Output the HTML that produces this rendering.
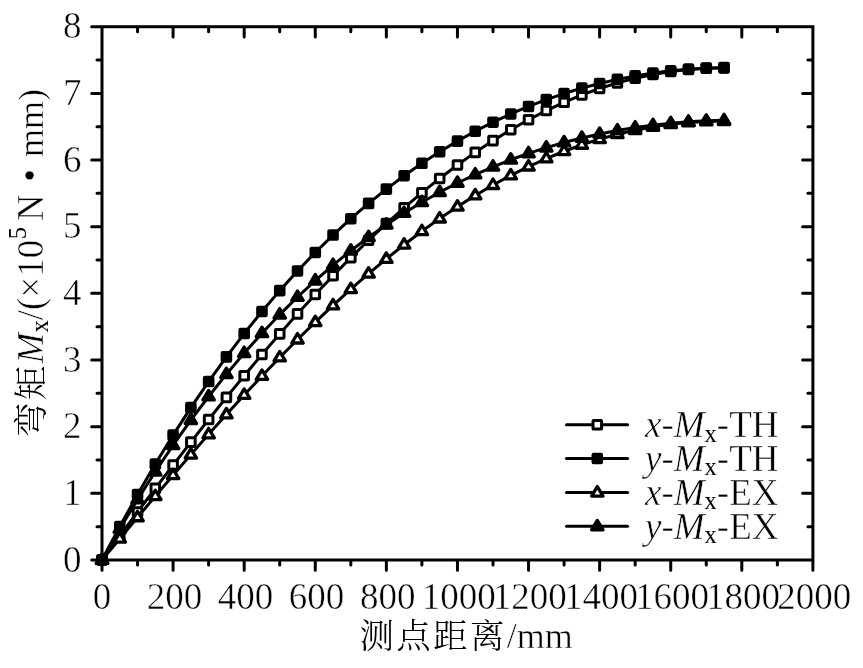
<!DOCTYPE html>
<html><head><meta charset="utf-8"><style>
html,body{margin:0;padding:0;background:#fff;}
body{width:863px;height:668px;overflow:hidden;}
svg{display:block;}
text{font-family:"Liberation Serif","Noto Serif CJK SC",serif;fill:#000;stroke:#fff;stroke-width:0.5;}
.cjk{font-family:"Noto Serif CJK SC",serif;font-weight:300;stroke-width:0;font-size:34.5px;letter-spacing:2.3px;}
.ax{stroke:#000;stroke-width:3.0;fill:none;stroke-linecap:round;stroke-linejoin:miter;}
.tk{stroke:#000;stroke-width:3.0;fill:none;stroke-linecap:round;}
.ln{stroke:#000;stroke-width:3.0;fill:none;stroke-linejoin:round;stroke-linecap:round;}
.mo{stroke:#000;stroke-width:3.0;fill:#fff;stroke-linejoin:round;}
.mf{stroke:#000;stroke-width:3.0;fill:#000;stroke-linejoin:round;}
.t{stroke-width:3.3;}
.s{font-size:24.5px;stroke-width:0;}
</style></head><body>
<svg width="863" height="668" viewBox="0 0 863 668">

<polyline class="ln" points="102,560 119.77,535.81 137.55,511.98 155.32,488.38 173.09,465.07 190.86,442.1 208.63,419.52 226.41,397.36 244.18,375.68 261.95,354.51 279.73,333.89 297.5,313.86 315.27,294.45 333.04,275.69 350.81,257.62 368.59,240.26 386.36,223.64 404.13,207.78 421.9,192.7 439.68,178.43 457.45,164.99 475.22,152.38 493,140.62 510.77,129.73 528.54,119.71 546.31,110.57 564.09,102.32 581.86,94.96 599.63,88.49 617.4,82.91 635.17,78.22 652.95,74.41 670.72,71.48 688.49,69.41 706.26,68.2 724.04,67.84"/>
<rect x="97.7" y="555.7" width="8.6" height="8.6" rx="0.7" class="mo"/>
<rect x="115.47" y="531.51" width="8.6" height="8.6" rx="0.7" class="mo"/>
<rect x="133.25" y="507.68" width="8.6" height="8.6" rx="0.7" class="mo"/>
<rect x="151.02" y="484.08" width="8.6" height="8.6" rx="0.7" class="mo"/>
<rect x="168.79" y="460.77" width="8.6" height="8.6" rx="0.7" class="mo"/>
<rect x="186.56" y="437.8" width="8.6" height="8.6" rx="0.7" class="mo"/>
<rect x="204.33" y="415.22" width="8.6" height="8.6" rx="0.7" class="mo"/>
<rect x="222.11" y="393.06" width="8.6" height="8.6" rx="0.7" class="mo"/>
<rect x="239.88" y="371.38" width="8.6" height="8.6" rx="0.7" class="mo"/>
<rect x="257.65" y="350.21" width="8.6" height="8.6" rx="0.7" class="mo"/>
<rect x="275.43" y="329.59" width="8.6" height="8.6" rx="0.7" class="mo"/>
<rect x="293.2" y="309.56" width="8.6" height="8.6" rx="0.7" class="mo"/>
<rect x="310.97" y="290.15" width="8.6" height="8.6" rx="0.7" class="mo"/>
<rect x="328.74" y="271.39" width="8.6" height="8.6" rx="0.7" class="mo"/>
<rect x="346.51" y="253.32" width="8.6" height="8.6" rx="0.7" class="mo"/>
<rect x="364.29" y="235.96" width="8.6" height="8.6" rx="0.7" class="mo"/>
<rect x="382.06" y="219.34" width="8.6" height="8.6" rx="0.7" class="mo"/>
<rect x="399.83" y="203.48" width="8.6" height="8.6" rx="0.7" class="mo"/>
<rect x="417.6" y="188.4" width="8.6" height="8.6" rx="0.7" class="mo"/>
<rect x="435.38" y="174.13" width="8.6" height="8.6" rx="0.7" class="mo"/>
<rect x="453.15" y="160.69" width="8.6" height="8.6" rx="0.7" class="mo"/>
<rect x="470.92" y="148.08" width="8.6" height="8.6" rx="0.7" class="mo"/>
<rect x="488.69" y="136.32" width="8.6" height="8.6" rx="0.7" class="mo"/>
<rect x="506.47" y="125.43" width="8.6" height="8.6" rx="0.7" class="mo"/>
<rect x="524.24" y="115.41" width="8.6" height="8.6" rx="0.7" class="mo"/>
<rect x="542.01" y="106.27" width="8.6" height="8.6" rx="0.7" class="mo"/>
<rect x="559.79" y="98.02" width="8.6" height="8.6" rx="0.7" class="mo"/>
<rect x="577.56" y="90.66" width="8.6" height="8.6" rx="0.7" class="mo"/>
<rect x="595.33" y="84.19" width="8.6" height="8.6" rx="0.7" class="mo"/>
<rect x="613.1" y="78.61" width="8.6" height="8.6" rx="0.7" class="mo"/>
<rect x="630.88" y="73.92" width="8.6" height="8.6" rx="0.7" class="mo"/>
<rect x="648.65" y="70.11" width="8.6" height="8.6" rx="0.7" class="mo"/>
<rect x="666.42" y="67.18" width="8.6" height="8.6" rx="0.7" class="mo"/>
<rect x="684.19" y="65.11" width="8.6" height="8.6" rx="0.7" class="mo"/>
<rect x="701.97" y="63.9" width="8.6" height="8.6" rx="0.7" class="mo"/>
<rect x="719.74" y="63.54" width="8.6" height="8.6" rx="0.7" class="mo"/>
<polyline class="ln" points="102,560 119.77,526.53 137.55,494.49 155.32,464.03 173.09,435.09 190.86,407.62 208.63,381.57 226.41,356.89 244.18,333.54 261.95,311.46 279.73,290.62 297.5,270.97 315.27,252.46 333.04,235.06 350.81,218.72 368.59,203.42 386.36,189.1 404.13,175.75 421.9,163.32 439.68,151.78 457.45,141.1 475.22,131.25 493,122.21 510.77,113.94 528.54,106.43 546.31,99.64 564.09,93.56 581.86,88.17 599.63,83.44 617.4,79.36 635.17,75.91 652.95,73.07 670.72,70.84 688.49,69.2 706.26,68.14 724.04,67.64"/>
<rect x="97.7" y="555.7" width="8.6" height="8.6" rx="0.7" class="mf"/>
<rect x="115.47" y="522.23" width="8.6" height="8.6" rx="0.7" class="mf"/>
<rect x="133.25" y="490.19" width="8.6" height="8.6" rx="0.7" class="mf"/>
<rect x="151.02" y="459.73" width="8.6" height="8.6" rx="0.7" class="mf"/>
<rect x="168.79" y="430.79" width="8.6" height="8.6" rx="0.7" class="mf"/>
<rect x="186.56" y="403.32" width="8.6" height="8.6" rx="0.7" class="mf"/>
<rect x="204.33" y="377.27" width="8.6" height="8.6" rx="0.7" class="mf"/>
<rect x="222.11" y="352.59" width="8.6" height="8.6" rx="0.7" class="mf"/>
<rect x="239.88" y="329.24" width="8.6" height="8.6" rx="0.7" class="mf"/>
<rect x="257.65" y="307.16" width="8.6" height="8.6" rx="0.7" class="mf"/>
<rect x="275.43" y="286.32" width="8.6" height="8.6" rx="0.7" class="mf"/>
<rect x="293.2" y="266.67" width="8.6" height="8.6" rx="0.7" class="mf"/>
<rect x="310.97" y="248.16" width="8.6" height="8.6" rx="0.7" class="mf"/>
<rect x="328.74" y="230.76" width="8.6" height="8.6" rx="0.7" class="mf"/>
<rect x="346.51" y="214.42" width="8.6" height="8.6" rx="0.7" class="mf"/>
<rect x="364.29" y="199.12" width="8.6" height="8.6" rx="0.7" class="mf"/>
<rect x="382.06" y="184.8" width="8.6" height="8.6" rx="0.7" class="mf"/>
<rect x="399.83" y="171.45" width="8.6" height="8.6" rx="0.7" class="mf"/>
<rect x="417.6" y="159.02" width="8.6" height="8.6" rx="0.7" class="mf"/>
<rect x="435.38" y="147.48" width="8.6" height="8.6" rx="0.7" class="mf"/>
<rect x="453.15" y="136.8" width="8.6" height="8.6" rx="0.7" class="mf"/>
<rect x="470.92" y="126.95" width="8.6" height="8.6" rx="0.7" class="mf"/>
<rect x="488.69" y="117.91" width="8.6" height="8.6" rx="0.7" class="mf"/>
<rect x="506.47" y="109.64" width="8.6" height="8.6" rx="0.7" class="mf"/>
<rect x="524.24" y="102.13" width="8.6" height="8.6" rx="0.7" class="mf"/>
<rect x="542.01" y="95.34" width="8.6" height="8.6" rx="0.7" class="mf"/>
<rect x="559.79" y="89.26" width="8.6" height="8.6" rx="0.7" class="mf"/>
<rect x="577.56" y="83.87" width="8.6" height="8.6" rx="0.7" class="mf"/>
<rect x="595.33" y="79.14" width="8.6" height="8.6" rx="0.7" class="mf"/>
<rect x="613.1" y="75.06" width="8.6" height="8.6" rx="0.7" class="mf"/>
<rect x="630.88" y="71.61" width="8.6" height="8.6" rx="0.7" class="mf"/>
<rect x="648.65" y="68.77" width="8.6" height="8.6" rx="0.7" class="mf"/>
<rect x="666.42" y="66.54" width="8.6" height="8.6" rx="0.7" class="mf"/>
<rect x="684.19" y="64.9" width="8.6" height="8.6" rx="0.7" class="mf"/>
<rect x="701.97" y="63.84" width="8.6" height="8.6" rx="0.7" class="mf"/>
<rect x="719.74" y="63.34" width="8.6" height="8.6" rx="0.7" class="mf"/>
<polyline class="ln" points="102,560 119.77,538.7 137.55,517.33 155.32,496.16 173.09,475.24 190.86,454.62 208.63,434.35 226.41,414.46 244.18,395 261.95,376.01 279.73,357.51 297.5,339.55 315.27,322.16 333.04,305.37 350.81,289.2 368.59,273.69 386.36,258.85 404.13,244.71 421.9,231.28 439.68,218.59 457.45,206.64 475.22,195.46 493,185.04 510.77,175.41 528.54,166.57 546.31,158.52 564.09,151.26 581.86,144.8 599.63,139.14 617.4,134.26 635.17,130.16 652.95,126.84 670.72,124.29 688.49,122.49 706.26,121.42 724.04,121.08"/>
<polygon points="102,553.97 107.7,563.43 96.3,563.43" class="mo t"/>
<polygon points="119.77,532.67 125.47,542.13 114.07,542.13" class="mo t"/>
<polygon points="137.55,511.3 143.25,520.76 131.85,520.76" class="mo t"/>
<polygon points="155.32,490.13 161.02,499.59 149.62,499.59" class="mo t"/>
<polygon points="173.09,469.21 178.79,478.67 167.39,478.67" class="mo t"/>
<polygon points="190.86,448.59 196.56,458.05 185.16,458.05" class="mo t"/>
<polygon points="208.63,428.32 214.33,437.78 202.94,437.78" class="mo t"/>
<polygon points="226.41,408.43 232.11,417.89 220.71,417.89" class="mo t"/>
<polygon points="244.18,388.97 249.88,398.43 238.48,398.43" class="mo t"/>
<polygon points="261.95,369.97 267.65,379.44 256.25,379.44" class="mo t"/>
<polygon points="279.73,351.48 285.43,360.94 274.03,360.94" class="mo t"/>
<polygon points="297.5,333.52 303.2,342.98 291.8,342.98" class="mo t"/>
<polygon points="315.27,316.13 320.97,325.59 309.57,325.59" class="mo t"/>
<polygon points="333.04,299.34 338.74,308.8 327.34,308.8" class="mo t"/>
<polygon points="350.81,283.17 356.51,292.64 345.12,292.64" class="mo t"/>
<polygon points="368.59,267.66 374.29,277.12 362.89,277.12" class="mo t"/>
<polygon points="386.36,252.82 392.06,262.28 380.66,262.28" class="mo t"/>
<polygon points="404.13,238.68 409.83,248.14 398.43,248.14" class="mo t"/>
<polygon points="421.9,225.25 427.6,234.71 416.2,234.71" class="mo t"/>
<polygon points="439.68,212.55 445.38,222.02 433.98,222.02" class="mo t"/>
<polygon points="457.45,200.61 463.15,210.07 451.75,210.07" class="mo t"/>
<polygon points="475.22,189.42 480.92,198.89 469.52,198.89" class="mo t"/>
<polygon points="493,179.01 498.69,188.48 487.3,188.48" class="mo t"/>
<polygon points="510.77,169.38 516.47,178.84 505.07,178.84" class="mo t"/>
<polygon points="528.54,160.54 534.24,170 522.84,170" class="mo t"/>
<polygon points="546.31,152.49 552.01,161.95 540.61,161.95" class="mo t"/>
<polygon points="564.09,145.23 569.79,154.69 558.38,154.69" class="mo t"/>
<polygon points="581.86,138.77 587.56,148.23 576.16,148.23" class="mo t"/>
<polygon points="599.63,133.1 605.33,142.57 593.93,142.57" class="mo t"/>
<polygon points="617.4,128.23 623.1,137.69 611.7,137.69" class="mo t"/>
<polygon points="635.17,124.13 640.88,133.59 629.47,133.59" class="mo t"/>
<polygon points="652.95,120.81 658.65,130.27 647.25,130.27" class="mo t"/>
<polygon points="670.72,118.26 676.42,127.72 665.02,127.72" class="mo t"/>
<polygon points="688.49,116.46 694.19,125.92 682.79,125.92" class="mo t"/>
<polygon points="706.26,115.39 711.97,124.85 700.56,124.85" class="mo t"/>
<polygon points="724.04,115.05 729.74,124.51 718.34,124.51" class="mo t"/>
<polyline class="ln" points="102,560 119.77,528.86 137.55,499.45 155.32,471.57 173.09,445.15 190.86,420.14 208.63,396.5 226.41,374.17 244.18,353.1 261.95,333.25 279.73,314.57 297.5,297.02 315.27,280.55 333.04,265.12 350.81,250.69 368.59,237.22 386.36,224.67 404.13,213.01 421.9,202.2 439.68,192.2 457.45,182.99 475.22,174.53 493,166.78 510.77,159.73 528.54,153.35 546.31,147.6 564.09,142.47 581.86,137.92 599.63,133.94 617.4,130.51 635.17,127.6 652.95,125.2 670.72,123.29 688.49,121.85 706.26,120.87 724.04,120.34"/>
<polygon points="102,553.97 107.7,563.43 96.3,563.43" class="mf t"/>
<polygon points="119.77,522.83 125.47,532.29 114.07,532.29" class="mf t"/>
<polygon points="137.55,493.42 143.25,502.88 131.85,502.88" class="mf t"/>
<polygon points="155.32,465.54 161.02,475 149.62,475" class="mf t"/>
<polygon points="173.09,439.12 178.79,448.58 167.39,448.58" class="mf t"/>
<polygon points="190.86,414.11 196.56,423.57 185.16,423.57" class="mf t"/>
<polygon points="208.63,390.47 214.33,399.93 202.94,399.93" class="mf t"/>
<polygon points="226.41,368.14 232.11,377.6 220.71,377.6" class="mf t"/>
<polygon points="244.18,347.07 249.88,356.53 238.48,356.53" class="mf t"/>
<polygon points="261.95,327.22 267.65,336.68 256.25,336.68" class="mf t"/>
<polygon points="279.73,308.54 285.43,318 274.03,318" class="mf t"/>
<polygon points="297.5,290.99 303.2,300.45 291.8,300.45" class="mf t"/>
<polygon points="315.27,274.52 320.97,283.98 309.57,283.98" class="mf t"/>
<polygon points="333.04,259.09 338.74,268.55 327.34,268.55" class="mf t"/>
<polygon points="350.81,244.66 356.51,254.12 345.12,254.12" class="mf t"/>
<polygon points="368.59,231.19 374.29,240.65 362.89,240.65" class="mf t"/>
<polygon points="386.36,218.64 392.06,228.1 380.66,228.1" class="mf t"/>
<polygon points="404.13,206.98 409.83,216.44 398.43,216.44" class="mf t"/>
<polygon points="421.9,196.17 427.6,205.63 416.2,205.63" class="mf t"/>
<polygon points="439.68,186.17 445.38,195.63 433.98,195.63" class="mf t"/>
<polygon points="457.45,176.96 463.15,186.42 451.75,186.42" class="mf t"/>
<polygon points="475.22,168.49 480.92,177.96 469.52,177.96" class="mf t"/>
<polygon points="493,160.75 498.69,170.21 487.3,170.21" class="mf t"/>
<polygon points="510.77,153.7 516.47,163.16 505.07,163.16" class="mf t"/>
<polygon points="528.54,147.32 534.24,156.78 522.84,156.78" class="mf t"/>
<polygon points="546.31,141.57 552.01,151.03 540.61,151.03" class="mf t"/>
<polygon points="564.09,136.43 569.79,145.9 558.38,145.9" class="mf t"/>
<polygon points="581.86,131.89 587.56,141.35 576.16,141.35" class="mf t"/>
<polygon points="599.63,127.91 605.33,137.37 593.93,137.37" class="mf t"/>
<polygon points="617.4,124.48 623.1,133.94 611.7,133.94" class="mf t"/>
<polygon points="635.17,121.57 640.88,131.03 629.47,131.03" class="mf t"/>
<polygon points="652.95,119.17 658.65,128.63 647.25,128.63" class="mf t"/>
<polygon points="670.72,117.26 676.42,126.72 665.02,126.72" class="mf t"/>
<polygon points="688.49,115.82 694.19,125.28 682.79,125.28" class="mf t"/>
<polygon points="706.26,114.84 711.97,124.31 700.56,124.31" class="mf t"/>
<polygon points="724.04,114.31 729.74,123.78 718.34,123.78" class="mf t"/>
<path class="tk" d="M100.5 560H91.7M100.5 526.67H97M811.4 526.67H807.9M100.5 493.34H91.7M811.4 493.34H802.6M100.5 460.01H97M811.4 460.01H807.9M100.5 426.68H91.7M811.4 426.68H802.6M100.5 393.35H97M811.4 393.35H807.9M100.5 360.02H91.7M811.4 360.02H802.6M100.5 326.69H97M811.4 326.69H807.9M100.5 293.36H91.7M811.4 293.36H802.6M100.5 260.03H97M811.4 260.03H807.9M100.5 226.7H91.7M811.4 226.7H802.6M100.5 193.37H97M811.4 193.37H807.9M100.5 160.04H91.7M811.4 160.04H802.6M100.5 126.71H97M811.4 126.71H807.9M100.5 93.38H91.7M811.4 93.38H802.6M100.5 60.05H97M811.4 60.05H807.9M100.5 26.72H91.7M102 561.5V570.3M137.55 561.5V565M137.55 28.22V31.72M173.09 561.5V570.3M173.09 28.22V37.02M208.63 561.5V565M208.63 28.22V31.72M244.18 561.5V570.3M244.18 28.22V37.02M279.73 561.5V565M279.73 28.22V31.72M315.27 561.5V570.3M315.27 28.22V37.02M350.81 561.5V565M350.81 28.22V31.72M386.36 561.5V570.3M386.36 28.22V37.02M421.9 561.5V565M421.9 28.22V31.72M457.45 561.5V570.3M457.45 28.22V37.02M493 561.5V565M493 28.22V31.72M528.54 561.5V570.3M528.54 28.22V37.02M564.09 561.5V565M564.09 28.22V31.72M599.63 561.5V570.3M599.63 28.22V37.02M635.17 561.5V565M635.17 28.22V31.72M670.72 561.5V570.3M670.72 28.22V37.02M706.26 561.5V565M706.26 28.22V31.72M741.81 561.5V570.3M741.81 28.22V37.02M777.36 561.5V565M777.36 28.22V31.72M812.9 561.5V570.3"/>
<rect class="ax" x="102" y="26.72" width="710.9" height="533.28"/>
<text x="81.5" y="571.5" font-size="37" text-anchor="end">0</text>
<text x="81.5" y="504.84" font-size="37" text-anchor="end">1</text>
<text x="81.5" y="438.18" font-size="37" text-anchor="end">2</text>
<text x="81.5" y="371.52" font-size="37" text-anchor="end">3</text>
<text x="81.5" y="304.86" font-size="37" text-anchor="end">4</text>
<text x="81.5" y="238.2" font-size="37" text-anchor="end">5</text>
<text x="81.5" y="171.54" font-size="37" text-anchor="end">6</text>
<text x="81.5" y="104.88" font-size="37" text-anchor="end">7</text>
<text x="81.5" y="38.22" font-size="37" text-anchor="end">8</text>
<text x="102" y="609" font-size="37" text-anchor="middle">0</text>
<text x="174.39" y="609" font-size="37" text-anchor="middle">200</text>
<text x="245.48" y="609" font-size="37" text-anchor="middle">400</text>
<text x="316.57" y="609" font-size="37" text-anchor="middle">600</text>
<text x="387.66" y="609" font-size="37" text-anchor="middle">800</text>
<text x="458.75" y="609" font-size="37" text-anchor="middle">1000</text>
<text x="529.84" y="609" font-size="37" text-anchor="middle">1200</text>
<text x="600.93" y="609" font-size="37" text-anchor="middle">1400</text>
<text x="672.02" y="609" font-size="37" text-anchor="middle">1600</text>
<text x="743.11" y="609" font-size="37" text-anchor="middle">1800</text>
<text x="814.2" y="609" font-size="37" text-anchor="middle">2000</text>
<text x="359.5" y="648" font-size="37"><tspan class="cjk">测点距离</tspan><tspan font-size="36">/mm</tspan></text>
<g transform="translate(42.5,437) rotate(-90)" font-size="37">
<text x="0" y="0"><tspan class="cjk">弯矩</tspan><tspan font-style="italic">M</tspan><tspan class="s" dy="5.5">x</tspan><tspan dy="-5.5">/(×10</tspan><tspan class="s" dy="-16.5" dx="0.5">5</tspan></text>
<text x="216" y="0">N</text>
<text x="255.3" y="0">•</text>
<text x="280" y="0" font-size="36">mm)</text>
</g>
<path class="ln" d="M566.5 424.8H627.6"/>
<rect x="593" y="420.5" width="8.6" height="8.6" rx="0.7" class="mo"/>
<text x="645" y="437.2" font-size="37"><tspan font-style="italic">x</tspan>-<tspan font-style="italic">M</tspan><tspan class="s" dy="4.3">x</tspan><tspan dy="-4.3">-TH</tspan></text>
<path class="ln" d="M566.5 458.5H627.6"/>
<rect x="593" y="454.2" width="8.6" height="8.6" rx="0.7" class="mf"/>
<text x="645" y="470.9" font-size="37"><tspan font-style="italic">y</tspan>-<tspan font-style="italic">M</tspan><tspan class="s" dy="4.3">x</tspan><tspan dy="-4.3">-TH</tspan></text>
<path class="ln" d="M566.5 492.5H627.6"/>
<polygon points="597.3,486.57 603,496.03 591.6,496.03" class="mo t"/>
<text x="645" y="504.9" font-size="37"><tspan font-style="italic">x</tspan>-<tspan font-style="italic">M</tspan><tspan class="s" dy="4.3">x</tspan><tspan dy="-4.3">-EX</tspan></text>
<path class="ln" d="M566.5 526.3H627.6"/>
<polygon points="597.3,520.37 603,529.83 591.6,529.83" class="mf t"/>
<text x="645" y="538.7" font-size="37"><tspan font-style="italic">y</tspan>-<tspan font-style="italic">M</tspan><tspan class="s" dy="4.3">x</tspan><tspan dy="-4.3">-EX</tspan></text>
</svg>
</body></html>
